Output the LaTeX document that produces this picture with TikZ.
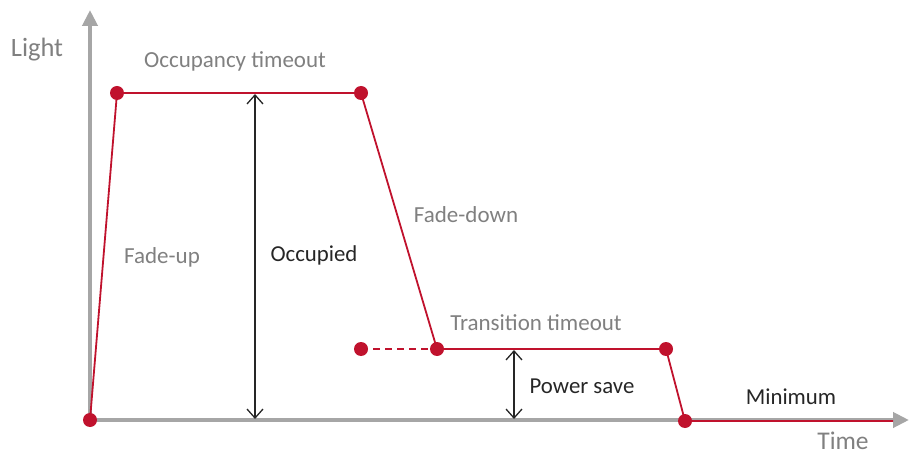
\documentclass[tikz,border=0pt]{standalone}
\usepackage{fontspec}
\setmainfont{Carlito}
\usetikzlibrary{arrows.meta}
\definecolor{redl}{HTML}{C0122D}
\definecolor{axisg}{HTML}{A6A6A6}
\definecolor{txtg}{HTML}{808080}
\definecolor{txtd}{HTML}{262626}
\begin{document}
\begin{tikzpicture}[x=1pt,y=-1pt,
  axis/.style={draw=axisg,line width=4pt,-{Triangle[length=16pt,width=15pt]}},
  curve/.style={draw=redl,line width=1.8pt},
  dot/.style={circle,fill=redl,inner sep=0pt,minimum size=14pt},
  measure/.style={draw=txtd,line width=1.3pt,{Straight Barb[length=9pt,width=16pt,line width=1.3pt]}-{Straight Barb[length=9pt,width=16pt,line width=1.3pt]}},
  glabel/.style={text=txtg,font=\fontsize{23}{26}\selectfont,inner sep=0pt},
  dlabel/.style={text=txtd,font=\fontsize{22.8}{26}\selectfont,inner sep=0pt}]
\useasboundingbox (0,0) rectangle (915,454);
\coordinate (O) at (90,420);
\coordinate (ytop) at (90,10);
\coordinate (xend) at (909,420);
\draw[axis] (O) -- (ytop);
\draw[axis] (O) -- (xend);
\node[dot] (p0) at (90,420) {};
\node[dot] (p1) at (117,93) {};
\node[dot] (p2) at (361,93) {};
\node[dot] (p3) at (437,349) {};
\node[dot] (p4) at (666,349) {};
\node[dot] (p5) at (685,421) {};
\node[dot] (pd) at (361,349) {};
\coordinate (pend) at (893,421);
\draw[curve] (p0.center) -- (p1.center) -- (p2.center) -- (p3.center) -- (p4.center) -- (p5.center) -- (pend);
\draw[curve,dash pattern=on 7pt off 5pt] (pd.center) -- (p3.center);
\coordinate (occT) at (255,94);
\coordinate (occB) at (255,419);
\draw[measure] (occT) -- (occB);
\coordinate (psT) at (514,350);
\coordinate (psB) at (514,419);
\draw[measure] (psT) -- (psB);
\node[glabel,font=\fontsize{26.5}{30}\selectfont] (light) at (37,50) {Light};
\node[glabel] (occto) at (235,61) {Occupancy timeout};
\node[glabel] (fup) at (162,257) {Fade-up};
\node[dlabel] (occ) at (314,255) {Occupied};
\node[glabel] (fdown) at (466,215) {Fade-down};
\node[glabel] (trto) at (536,323) {Transition timeout};
\node[dlabel] (psave) at (582,386) {Power save};
\node[dlabel] (minim) at (791,397) {Minimum};
\node[glabel,font=\fontsize{25.5}{28}\selectfont] (time) at (843,441) {Time};
\end{tikzpicture}
\end{document}
